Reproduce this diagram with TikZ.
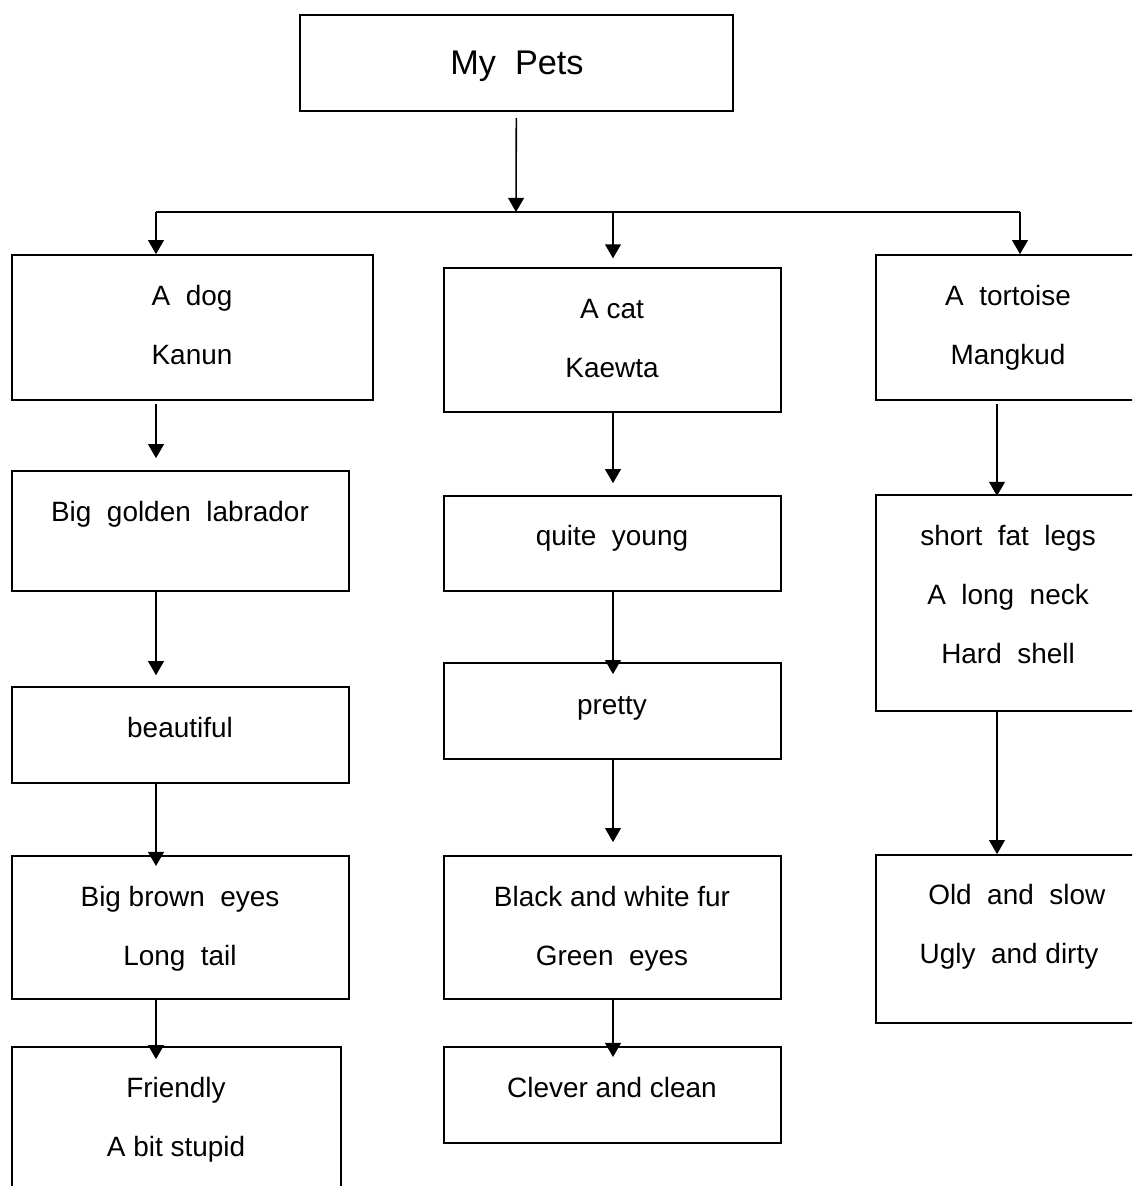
\documentclass[tikz,border=0pt]{standalone}
\usepackage{fontspec}
\setmainfont{Liberation Sans}
\usetikzlibrary{fit,arrows.meta}

\tikzset{
  pbox/.style={draw, line width=1pt, inner sep=0pt},
  ptext/.style={anchor=base, align=center, font=\fontsize{15.9}{33.4}\selectfont},
  arr/.style={-{Triangle[width=9pt,length=8pt]}, line width=0.9pt},
}

\begin{document}
\begin{tikzpicture}[x=0.02cm, y=-0.02cm]
\useasboundingbox (0,0) rectangle (1132,1186);
\clip (0,0) rectangle (1132,1186);
% boxes
\node[pbox, fit={(300,15) (733,111)}] (pets) {};
\node[pbox, fit={(12,255) (373,400)}] (dog) {};
\node[pbox, fit={(12,471) (349,591)}] (golden) {};
\node[pbox, fit={(12,687) (349,783)}] (beauty) {};
\node[pbox, fit={(12,856) (349,999)}] (eyes) {};
\node[pbox, fit={(12,1047) (341,1200)}] (friend) {};
\node[pbox, fit={(444,268) (781,412)}] (cat) {};
\node[pbox, fit={(444,496) (781,591)}] (young) {};
\node[pbox, fit={(444,663) (781,759)}] (pretty) {};
\node[pbox, fit={(444,856) (781,999)}] (fur) {};
\node[pbox, fit={(444,1047) (781,1143)}] (clever) {};
\node[pbox, fit={(876,255) (1150,400)}] (tort) {};
\node[pbox, fit={(876,495) (1150,711)}] (legs) {};
\node[pbox, fit={(876,855) (1150,1023)}] (old) {};
% texts (base = last line)
\node[ptext, font=\fontsize{19.5}{24}\selectfont] (petst) at (517,74) {My~~Pets};
\node[ptext] (dogt) at (192,364) {A~~dog\\Kanun};
\node[ptext] (goldent) at (180,521) {Big~~golden~~labrador};
\node[ptext] (beautyt) at (180,737) {beautiful};
\node[ptext] (eyest) at (180,965) {Big brown~~eyes\\Long~~tail};
\node[ptext] (friendt) at (176,1156) {Friendly\\A bit stupid};
\node[ptext] (catt) at (612,377) {A cat\\Kaewta};
\node[ptext] (youngt) at (612,545) {quite~~young};
\node[ptext] (prettyt) at (612,714) {pretty};
\node[ptext] (furt) at (612,965) {Black and white fur\\Green~~eyes};
\node[ptext] (clevert) at (612,1097) {Clever and clean};
\node[ptext] (tortt) at (1008,364) {A~~tortoise\\Mangkud};
\node[ptext] (legst) at (1008,663) {short~~fat~~legs\\A~~long~~neck\\Hard~~shell};
\node[ptext] (oldt) at (1009,963) {~~Old~~and~~slow\\Ugly~~and dirty};
% connectors
\coordinate (hub) at (516,212);
\coordinate (c1) at (156,0);
\coordinate (c2) at (613,0);
\coordinate (c3) at (997,0);
\coordinate (c4) at (1020,0);
\draw[arr, shorten <=3.4pt] (pets) -- (hub);
\draw[line width=0.9pt] (hub -| c1) -- (hub -| c4);
\path[arr]
(hub -| c1) edge (dog.north -| c1)
(hub -| c2) edge[shorten >=5pt] (cat.north -| c2)
(hub -| c4) edge (tort.north -| c4)
(dog.south -| c1) edge[shorten <=2pt, shorten >=6.8pt] (golden.north -| c1)
(golden.south -| c1) edge[shorten >=6.2pt] (beauty.north -| c1)
(beauty.south -| c1) edge[shorten >=-6.2pt] (eyes.north -| c1)
(eyes.south -| c1) edge[shorten >=-7.4pt] (friend.north -| c1)
(cat.south -| c2) edge[shorten >=6.8pt] (young.north -| c2)
(young.south -| c2) edge[shorten >=-6.8pt] (pretty.north -| c2)
(pretty.south -| c2) edge[shorten >=7.4pt] (fur.north -| c2)
(fur.south -| c2) edge[shorten >=-6.2pt] (clever.north -| c2)
(tort.south -| c3) edge[shorten <=2pt, shorten >=-1pt] (legs.north -| c3)
(legs.south -| c3) edge (old.north -| c3)
;
\end{tikzpicture}
\end{document}
